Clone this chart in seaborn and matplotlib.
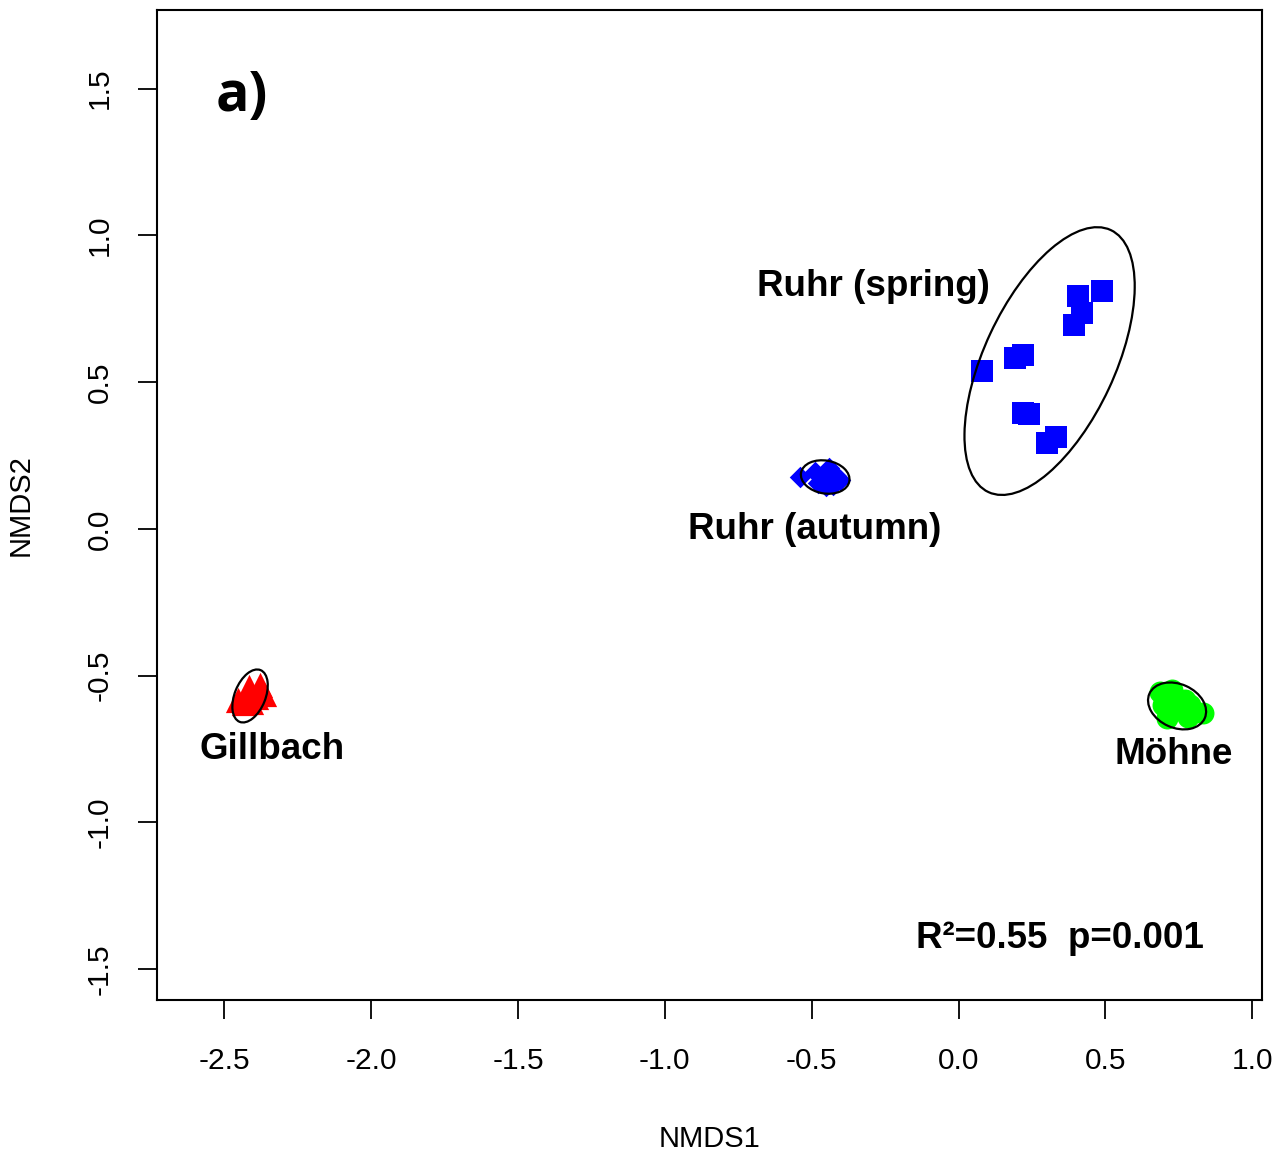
import matplotlib
matplotlib.use("Agg")
import matplotlib.pyplot as plt
from matplotlib.patches import Ellipse
import numpy as np
import pandas as pd
import seaborn as sns

# NMDS site scores per group
spring_x = [0.080, 0.192, 0.220, 0.220, 0.240, 0.301, 0.332, 0.393, 0.420, 0.407, 0.489]
spring_y = [0.538, 0.583, 0.593, 0.396, 0.392, 0.293, 0.313, 0.695, 0.736, 0.794, 0.811]

autumn_x = [-0.540, -0.489, -0.441, -0.465, -0.438, -0.417, -0.451, -0.478, -0.427, -0.403, -0.458]
autumn_y = [0.177, 0.194, 0.208, 0.174, 0.167, 0.181, 0.147, 0.157, 0.150, 0.167, 0.187]

gillbach_x = [-2.416, -2.378, -2.433, -2.409, -2.365, -2.453, -2.392]
gillbach_y = [-0.538, -0.532, -0.593, -0.589, -0.562, -0.583, -0.572]

moehne_x = [0.686, 0.727, 0.771, 0.713, 0.754, 0.805, 0.832, 0.788, 0.737, 0.696, 0.780, 0.709]
moehne_y = [-0.555, -0.549, -0.583, -0.634, -0.617, -0.624, -0.627, -0.600, -0.583, -0.600, -0.641, -0.644]

groups = ["Ruhr (spring)", "Ruhr (autumn)", "Gillbach", "Möhne"]

# Group ellipses: centre x, centre y, width, height, angle (deg)
ellipse_cx = [0.310, -0.454, -2.412, 0.744]
ellipse_cy = [0.572, 0.177, -0.569, -0.603]
ellipse_w = [0.985, 0.167, 0.190, 0.206]
ellipse_h = [0.445, 0.112, 0.105, 0.149]
ellipse_angle = [65, -10, 68, -24]

x_ticks = [-2.5, -2.0, -1.5, -1.0, -0.5, 0.0, 0.5, 1.0]
y_ticks = [-1.5, -1.0, -0.5, 0.0, 0.5, 1.0, 1.5]

stat_text = "R²=0.55  p=0.001"
panel_text = "a)"

frames = []
for name, xs, ys in zip(groups,
                        [spring_x, autumn_x, gillbach_x, moehne_x],
                        [spring_y, autumn_y, gillbach_y, moehne_y]):
    frames.append(pd.DataFrame({"NMDS1": xs, "NMDS2": ys, "group": name}))
df = pd.concat(frames, ignore_index=True)

colors = {"Ruhr (spring)": "#0000FF", "Ruhr (autumn)": "#0000FF",
          "Gillbach": "#FF0000", "Möhne": "#00FF00"}
markers = {"Ruhr (spring)": "s", "Ruhr (autumn)": "D",
           "Gillbach": "^", "Möhne": "o"}
msizes = {"Ruhr (spring)": 250, "Ruhr (autumn)": 120,
          "Gillbach": 330, "Möhne": 250}

sns.set_style("ticks")
plt.rcParams["font.family"] = ["Liberation Sans", "DejaVu Sans"]
plt.rcParams["text.color"] = "black"
plt.rcParams["axes.labelcolor"] = "black"
plt.rcParams["xtick.color"] = "black"
plt.rcParams["ytick.color"] = "black"

fig = plt.figure(figsize=(12.76, 11.52), dpi=100)
ax = fig.add_axes([0.1230, 0.1319, 0.8660, 0.8594])

for name in groups:
    sub = df[df["group"] == name]
    sns.scatterplot(data=sub, x="NMDS1", y="NMDS2", color=colors[name],
                    marker=markers[name], s=msizes[name], linewidth=0,
                    ax=ax, legend=False, zorder=3)

for cx, cy, w, h, a in zip(ellipse_cx, ellipse_cy, ellipse_w, ellipse_h, ellipse_angle):
    ax.add_patch(Ellipse((cx, cy), w, h, angle=a, fill=False,
                         edgecolor="black", linewidth=1.6, zorder=4))

ax.set_xlim(-2.729, 1.033)
ax.set_ylim(-1.605, 1.768)
ax.set_xticks(x_ticks)
ax.set_yticks(y_ticks)
ax.set_xticklabels([f"{v:.1f}" for v in x_ticks])
ax.set_yticklabels([f"{v:.1f}" for v in y_ticks], rotation=90, va="center")
ax.tick_params(axis="both", length=14, width=1.3, labelsize=21.5, pad=20,
               color="black", labelcolor="black")
ax.tick_params(axis="y", pad=17)
for sp in ax.spines.values():
    sp.set_linewidth(1.5)
    sp.set_color("black")

ax.set_xlabel("NMDS1", fontsize=21, labelpad=36)
ax.set_ylabel("NMDS2", fontsize=21, labelpad=37)

label_pos = {"Ruhr (spring)": (-0.291, 0.825), "Ruhr (autumn)": (-0.489, -0.003),
             "Gillbach": (-2.337, -0.753), "Möhne": (0.734, -0.770)}
for name in groups:
    lx, ly = label_pos[name]
    ax.text(lx, ly, name, ha="center", va="center", fontsize=26.5,
            fontweight="bold", color="black", zorder=5)

ax.text(0.346, -1.394, stat_text, ha="center", va="center", fontsize=26.5,
        fontweight="bold", color="black")
ax.text(-2.44, 1.472, panel_text, ha="center", va="center", fontsize=40,
        fontweight="bold", color="black", family=["Open Sans", "DejaVu Sans"])

fig.savefig("out.png", dpi=100, facecolor="white")
